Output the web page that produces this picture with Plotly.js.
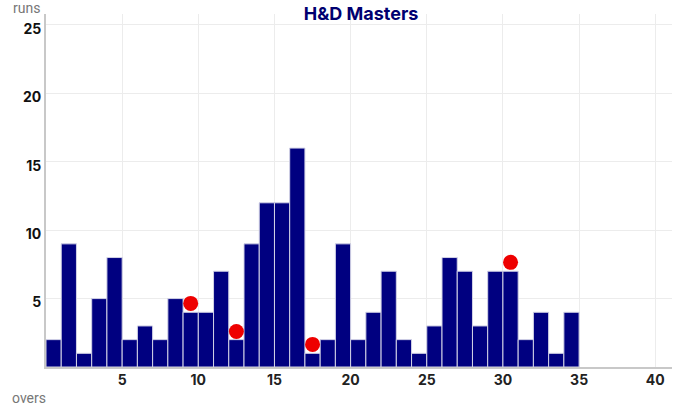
<!DOCTYPE html>
<html>
<head>
<meta charset="utf-8">
<script src="https://cdn.plot.ly/plotly-3.0.1.min.js"></script>
<style>
html,body{margin:0;padding:0;background:#fff;}
#chart{width:680px;height:410px;}
</style>
</head>
<body>
<div id="chart"></div>
<script>
const overs = [1,2,3,4,5,6,7,8,9,10,11,12,13,14,15,16,17,18,19,20,21,22,23,24,25,26,27,28,29,30,31,32,33,34,35];
const runs  = [2,9,1,5,8,2,3,2,5,4,4,7,2,9,12,12,16,1,2,9,2,4,7,2,1,3,8,7,3,7,7,2,4,1,4];
const wicketOvers = [10,13,18,31];
const wicketY = [4.65,2.6,1.65,7.65];
const xTicks = [5,10,15,20,25,30,35,40];
const yTicks = [5,10,15,20,25];

const bars = {
  type: 'bar',
  x: overs,
  y: runs,
  width: 1,
  offset: -1,
  marker: {color: '#000080', line: {color: '#d2d2e6', width: 1}},
  hoverinfo: 'x+y',
  showlegend: false
};
const wickets = {
  type: 'scatter',
  mode: 'markers',
  x: wicketOvers.map(o => o - 0.5),
  y: wicketY,
  marker: {color: '#ee0000', size: 15},
  showlegend: false
};

const layout = {
  width: 680, height: 410,
  margin: {l: 46, r: 8, t: 14, b: 43},
  paper_bgcolor: '#fff', plot_bgcolor: '#fff',
  bargap: 0,
  title: {text: '<b>H&D Masters</b>', font: {family: 'Inter, Roboto, Arial, sans-serif', size: 18, color: '#000070'}, x: 0.531, xanchor: 'center', y: 0.982, yanchor: 'top'},
  xaxis: {
    range: [0, 41.1], tickvals: xTicks, ticktext: xTicks.map(String),
    showgrid: true, gridcolor: '#ececec', gridwidth: 1,
    showline: true, linecolor: '#c8c8c8', linewidth: 1.5,
    zeroline: false, ticks: '',
    tickfont: {family: 'Inter, Roboto, Arial, sans-serif', size: 14, color: '#222', weight: 'bold'}
  },
  yaxis: {
    range: [0, 25.8], tickvals: yTicks, ticktext: yTicks.map(String),
    showgrid: true, gridcolor: '#ececec', gridwidth: 1,
    showline: true, linecolor: '#c8c8c8', linewidth: 2,
    zeroline: false, ticks: '', ticklabelshift: 4,
    tickfont: {family: 'Inter, Roboto, Arial, sans-serif', size: 14, color: '#111', weight: 'bold'}
  },
  annotations: [
    {text: 'runs', xref: 'paper', yref: 'paper', x: -0.056, y: 1.0, xanchor: 'left', yanchor: 'bottom', yshift: -4, showarrow: false,
     font: {family: 'Roboto, Arial, sans-serif', size: 14, color: '#777'}},
    {text: 'overs', xref: 'paper', yref: 'paper', x: -0.058, y: 0, xanchor: 'left', yanchor: 'top', yshift: -21, showarrow: false,
     font: {family: 'Roboto, Arial, sans-serif', size: 14, color: '#777'}}
  ]
};

Plotly.newPlot('chart', [bars, wickets], layout, {displayModeBar: false, staticPlot: true});
</script>
</body>
</html>
